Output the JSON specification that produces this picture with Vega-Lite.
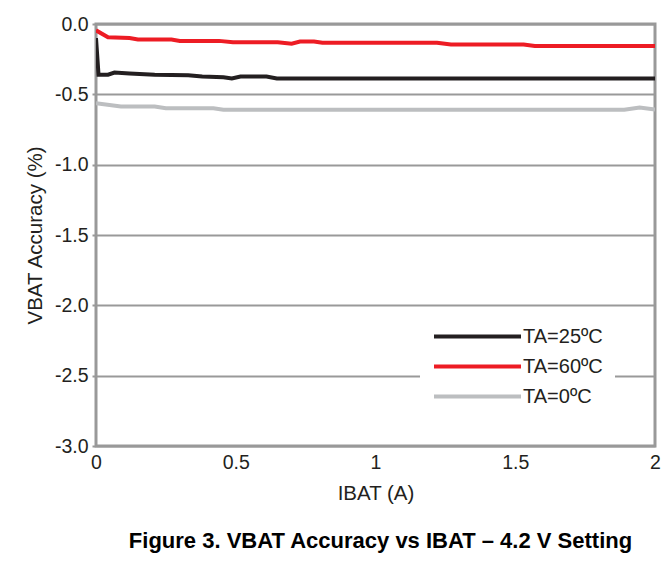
{
  "$schema": "https://vega.github.io/schema/vega-lite/v6.json",
  "width": 559,
  "height": 422,
  "autosize": "none",
  "padding": {"left": 96, "top": 24, "right": 16, "bottom": 141},
  "background": "white",
  "title": {
    "text": "Figure 3. VBAT Accuracy vs IBAT – 4.2 V Setting",
    "orient": "bottom",
    "anchor": "middle",
    "fontSize": 22,
    "fontWeight": "bold",
    "font": "Liberation Sans",
    "color": "#000000",
    "offset": 27,
    "dx": 5
  },
  "config": {
    "font": "Liberation Sans",
    "view": {"stroke": "#999999", "strokeWidth": 3},
    "axis": {
      "labelFont": "Liberation Sans",
      "titleFont": "Liberation Sans",
      "labelFontSize": 19.5,
      "titleFontSize": 20.5,
      "titleFontWeight": "normal",
      "labelColor": "#231F20",
      "titleColor": "#231F20",
      "domain": false
    }
  },
  "data": {
    "values": [
      {"series": "TA=0ºC", "x": 0.0, "y": -0.563},
      {"series": "TA=0ºC", "x": 0.089, "y": -0.587},
      {"series": "TA=0ºC", "x": 0.21, "y": -0.587},
      {"series": "TA=0ºC", "x": 0.25, "y": -0.599},
      {"series": "TA=0ºC", "x": 0.42, "y": -0.599},
      {"series": "TA=0ºC", "x": 0.456, "y": -0.61},
      {"series": "TA=0ºC", "x": 1.0, "y": -0.61},
      {"series": "TA=0ºC", "x": 1.5, "y": -0.61},
      {"series": "TA=0ºC", "x": 1.89, "y": -0.61},
      {"series": "TA=0ºC", "x": 1.945, "y": -0.594},
      {"series": "TA=0ºC", "x": 2.0, "y": -0.608},
      {"series": "TA=25ºC", "x": 0.0, "y": -0.1},
      {"series": "TA=25ºC", "x": 0.009, "y": -0.36},
      {"series": "TA=25ºC", "x": 0.043, "y": -0.36},
      {"series": "TA=25ºC", "x": 0.066, "y": -0.345},
      {"series": "TA=25ºC", "x": 0.12, "y": -0.352},
      {"series": "TA=25ºC", "x": 0.21, "y": -0.36},
      {"series": "TA=25ºC", "x": 0.33, "y": -0.364},
      {"series": "TA=25ºC", "x": 0.38, "y": -0.373},
      {"series": "TA=25ºC", "x": 0.456, "y": -0.378},
      {"series": "TA=25ºC", "x": 0.486, "y": -0.387},
      {"series": "TA=25ºC", "x": 0.517, "y": -0.373},
      {"series": "TA=25ºC", "x": 0.61, "y": -0.373},
      {"series": "TA=25ºC", "x": 0.647, "y": -0.387},
      {"series": "TA=25ºC", "x": 1.0, "y": -0.387},
      {"series": "TA=25ºC", "x": 1.5, "y": -0.387},
      {"series": "TA=25ºC", "x": 2.0, "y": -0.387},
      {"series": "TA=60ºC", "x": 0.0, "y": -0.045},
      {"series": "TA=60ºC", "x": 0.043, "y": -0.094},
      {"series": "TA=60ºC", "x": 0.12, "y": -0.1},
      {"series": "TA=60ºC", "x": 0.15, "y": -0.11},
      {"series": "TA=60ºC", "x": 0.27, "y": -0.11},
      {"series": "TA=60ºC", "x": 0.3, "y": -0.12},
      {"series": "TA=60ºC", "x": 0.44, "y": -0.12},
      {"series": "TA=60ºC", "x": 0.49, "y": -0.13},
      {"series": "TA=60ºC", "x": 0.65, "y": -0.13},
      {"series": "TA=60ºC", "x": 0.7, "y": -0.14},
      {"series": "TA=60ºC", "x": 0.73, "y": -0.125},
      {"series": "TA=60ºC", "x": 0.78, "y": -0.125},
      {"series": "TA=60ºC", "x": 0.81, "y": -0.134},
      {"series": "TA=60ºC", "x": 1.22, "y": -0.134},
      {"series": "TA=60ºC", "x": 1.27, "y": -0.146},
      {"series": "TA=60ºC", "x": 1.53, "y": -0.146},
      {"series": "TA=60ºC", "x": 1.57, "y": -0.157},
      {"series": "TA=60ºC", "x": 2.0, "y": -0.157}
    ]
  },
  "mark": {"type": "line", "strokeWidth": 4, "clip": true},
  "encoding": {
    "x": {
      "field": "x",
      "type": "quantitative",
      "scale": {"domain": [0, 2], "nice": false, "zero": false},
      "axis": {
        "title": "IBAT (A)",
        "values": [0, 0.5, 1, 1.5, 2],
        "format": "~g",
        "grid": false,
        "ticks": false,
        "labelFlush": false,
        "labelPadding": 7,
        "titlePadding": 12
      }
    },
    "y": {
      "field": "y",
      "type": "quantitative",
      "scale": {"domain": [-3, 0], "nice": false, "zero": false},
      "axis": {
        "title": "VBAT Accuracy (%)",
        "values": [0, -0.5, -1, -1.5, -2, -2.5, -3],
        "labelExpr": "replace(format(datum.value, '.1f'), '−', '-')",
        "grid": true,
        "gridColor": "#999999",
        "gridWidth": 2,
        "gridOpacity": 1,
        "ticks": true,
        "tickColor": "#999999",
        "tickSize": 4,
        "tickWidth": 2,
        "labelPadding": 4,
        "titlePadding": 9
      }
    },
    "color": {
      "field": "series",
      "type": "nominal",
      "scale": {
        "domain": ["TA=25ºC", "TA=60ºC", "TA=0ºC"],
        "range": ["#231F20", "#ED1C24", "#BCBEC0"]
      },
      "legend": {
        "title": null,
        "orient": "none",
        "legendX": 324,
        "legendY": 284,
        "fillColor": "white",
        "padding": 12,
        "symbolType": "M-1,0H5",
        "symbolSize": 841,
        "symbolStrokeWidth": 4,
        "labelOffset": 58,
        "labelFontSize": 20,
        "labelFont": "Liberation Sans",
        "labelColor": "#231F20",
        "rowPadding": 3
      }
    }
  }
}
